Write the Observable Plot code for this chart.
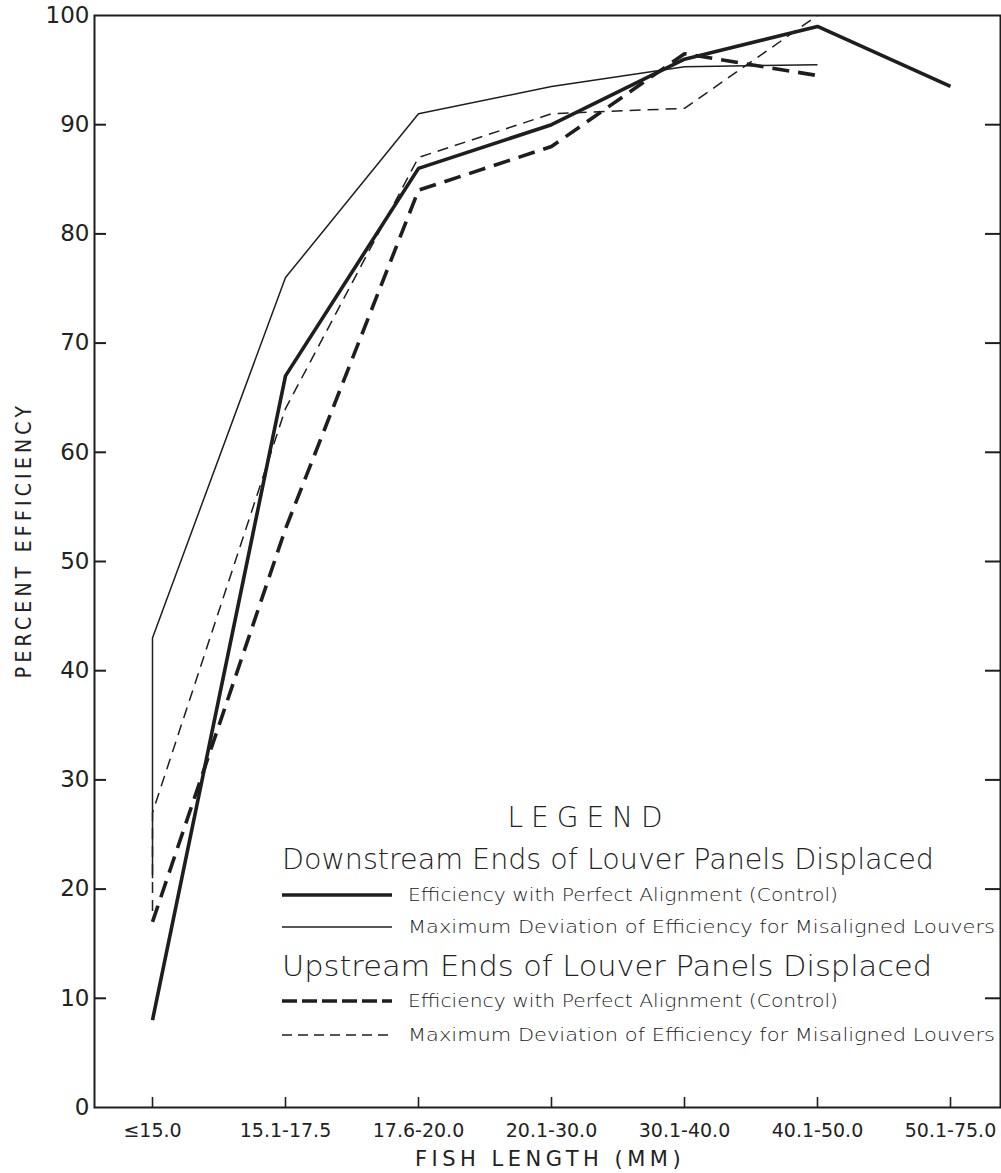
<!DOCTYPE html>
<html>
<head>
<meta charset="utf-8">
<script src="https://cdn.jsdelivr.net/npm/d3@7"></script>
<script src="https://cdn.jsdelivr.net/npm/@observablehq/plot@0.6"></script>
<style>
  html, body { margin: 0; padding: 0; background: #fff; }
  #chart { width: 1001px; height: 1173px; }
</style>
</head>
<body>
<div id="chart"></div>
<script>
// ---- data ----
const categories = ["≤15.0", "15.1-17.5", "17.6-20.0", "20.1-30.0", "30.1-40.0", "40.1-50.0", "50.1-75.0"];
const yTicks = [0, 10, 20, 30, 40, 50, 60, 70, 80, 90, 100];
const rightTicks = [10, 20, 30, 40, 50, 60, 70, 80, 90];

// Downstream ends displaced
const downControlX = ["≤15.0", "15.1-17.5", "17.6-20.0", "20.1-30.0", "30.1-40.0", "40.1-50.0", "50.1-75.0"];
const downControl = [8, 67, 86, 90, 96, 99, 93.5];
const downMaxDevX = ["≤15.0", "≤15.0", "15.1-17.5", "17.6-20.0", "20.1-30.0", "30.1-40.0", "40.1-50.0"];
const downMaxDev = [21, 43, 76, 91, 93.5, 95.3, 95.5];

// Upstream ends displaced
const upControlX = ["≤15.0", "15.1-17.5", "17.6-20.0", "20.1-30.0", "30.1-40.0", "40.1-50.0"];
const upControl = [17, 53, 84, 88, 96.5, 94.5];
const upMaxDevX = ["≤15.0", "≤15.0", "15.1-17.5", "17.6-20.0", "20.1-30.0", "30.1-40.0", "40.1-50.0"];
const upMaxDev = [18, 27, 64, 87, 91, 91.5, 100];

const legendTitle = "LEGEND";
const groupTitles = ["Downstream Ends of Louver Panels Displaced", "Upstream Ends of Louver Panels Displaced"];
const itemLabels = ["Efficiency with Perfect Alignment (Control)", "Maximum Deviation of Efficiency for Misaligned Louvers"];
const xTitle = "FISH LENGTH (MM)";
const yTitle = "PERCENT EFFICIENCY";

// ---- build ----
const ink = "#1e1e1e";
const textInk = "#222222";
const styles = {
  downControl: {strokeWidth: 3.6, dash: null},
  downMaxDev: {strokeWidth: 1.5, dash: null},
  upControl: {strokeWidth: 3.6, dash: "17,9"},
  upMaxDev: {strokeWidth: 1.5, dash: "11,7"}
};
const toRows = (xs, ys) => xs.map((x, i) => ({x, y: ys[i]}));

const W = 1001, H = 1173;
const mL = 94, mR = 1, mT = 15, mB = 66;
const pw = W - mL - mR, ph = H - mT - mB;

function lineMark(rows, st) {
  return Plot.line(rows, {
    x: "x", y: "y", stroke: ink, strokeWidth: st.strokeWidth,
    strokeDasharray: st.dash || undefined, strokeLinejoin: "miter", strokeLinecap: "butt"
  });
}

const chart = Plot.plot({
  width: W, height: H,
  marginLeft: mL, marginRight: mR, marginTop: mT, marginBottom: mB,
  style: {fontFamily: "'DejaVu Sans', sans-serif", color: textInk, background: "#fff"},
  x: {type: "point", domain: categories, range: [151, 951], padding: 0},
  y: {domain: [0, 100]},
  marks: [
    Plot.axisY({ticks: yTicks, tickSize: 0, tickPadding: 5, fontSize: 23, label: null, fill: textInk}),
    Plot.axisX({tickSize: 0, tickPadding: 16, fontSize: 19, label: null, fill: textInk}),
    Plot.ruleY(yTicks.slice(1, -1), {insetRight: pw - 12, stroke: ink, strokeWidth: 2}),
    Plot.ruleY(rightTicks, {insetLeft: pw - 15, stroke: ink, strokeWidth: 2}),
    Plot.ruleX(categories, {insetTop: ph - 10, stroke: ink, strokeWidth: 1.6}),
    Plot.frame({stroke: ink, strokeWidth: 2}),
    lineMark(toRows(downMaxDevX, downMaxDev), styles.downMaxDev),
    lineMark(toRows(upMaxDevX, upMaxDev), styles.upMaxDev),
    lineMark(toRows(upControlX, upControl), styles.upControl),
    lineMark(toRows(downControlX, downControl), styles.downControl)
  ]
});

const svg = d3.select(chart);

// axis titles
svg.append("text")
  .attr("x", 550).attr("y", 1166)
  .attr("text-anchor", "middle")
  .attr("font-family", "'DejaVu Sans', sans-serif")
  .attr("font-size", 21)
  .attr("letter-spacing", 4.5)
  .attr("fill", textInk)
  .text(xTitle);

svg.append("text")
  .attr("transform", "translate(31,540) rotate(-90)")
  .attr("text-anchor", "middle")
  .attr("font-family", "'DejaVu Sans Condensed', 'DejaVu Sans', sans-serif")
  .attr("font-size", 21)
  .attr("letter-spacing", 4.2)
  .attr("fill", textInk)
  .text(yTitle);

// legend
const lg = svg.append("g").attr("fill", textInk).attr("font-family", "'DejaVu Sans', sans-serif")
  .attr("text-anchor", "start").attr("font-weight", 300);
lg.append("text").attr("x", 589).attr("y", 827).attr("text-anchor", "middle")
  .attr("font-size", 28).attr("letter-spacing", 8).text(legendTitle);

const groupY = [869, 976];
const rowY = [[895, 927], [1001, 1035]];
const rowStyles = [[styles.downControl, styles.downMaxDev], [styles.upControl, styles.upMaxDev]];
const groupWidths = [652, 650];
const itemWidths = [430, 587];
groupTitles.forEach((t, g) => {
  lg.append("text").attr("x", 282).attr("y", groupY[g]).attr("text-anchor", "start")
    .attr("font-size", 28)
    .attr("textLength", groupWidths[g]).attr("lengthAdjust", "spacingAndGlyphs")
    .text(t);
  itemLabels.forEach((lab, i) => {
    const st = rowStyles[g][i];
    lg.append("line").attr("x1", 282).attr("x2", 392)
      .attr("y1", rowY[g][i]).attr("y2", rowY[g][i])
      .attr("stroke", ink).attr("stroke-width", st.strokeWidth)
      .attr("stroke-dasharray", st.dash ? (i === 0 ? "15,5" : "10,6") : null);
    lg.append("text").attr("x", 408).attr("y", rowY[g][i] + 6).attr("text-anchor", "start")
      .attr("font-size", 17)
      .attr("textLength", itemWidths[i]).attr("lengthAdjust", "spacingAndGlyphs")
      .text(lab);
  });
});

document.getElementById("chart").appendChild(chart);
</script>
</body>
</html>
